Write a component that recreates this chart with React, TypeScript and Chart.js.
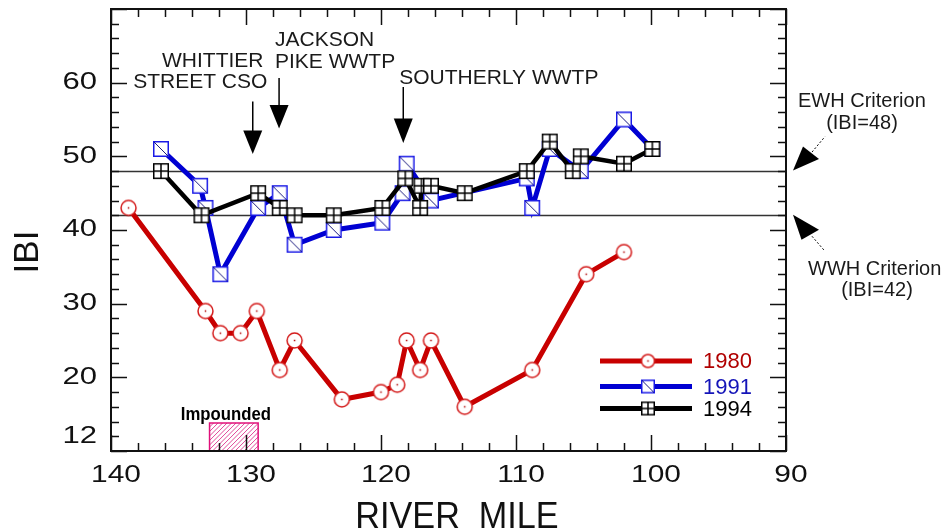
import { useEffect, useRef } from "react";
import { Chart, registerables } from "chart.js";

Chart.register(...registerables);

// ---- data ----
const seriesNames = ["1980", "1991", "1994"];

const miles1980 = [138.7, 133.0, 131.9, 130.4, 129.2, 127.5, 126.4, 122.9, 120.0, 118.8, 118.1, 117.1, 116.3, 113.8, 108.8, 104.8, 102.0];
const ibi1980 = [43, 29, 26, 26, 29, 21, 25, 17, 18, 19, 25, 21, 25, 16, 21, 34, 37];

const miles1991 = [136.3, 133.4, 133.0, 131.9, 129.1, 127.5, 126.4, 123.5, 119.9, 118.4, 118.1, 116.3, 109.2, 108.8, 107.5, 105.2, 102.0, 99.9];
const ibi1991 = [51, 46, 43, 34, 43, 45, 38, 40, 41, 45, 49, 44, 47, 43, 51, 48, 55, 51];

const miles1994 = [136.3, 133.3, 129.1, 127.5, 126.4, 123.5, 119.9, 118.2, 117.1, 117.0, 116.3, 113.8, 109.2, 107.5, 105.8, 105.2, 102.0, 99.9];
const ibi1994 = [48, 42, 45, 43, 42, 42, 43, 47, 43, 46, 46, 45, 48, 52, 48, 50, 49, 51];

const xTickLabels = [140, 130, 120, 110, 100, 90];
const yTickLabels = [12, 20, 30, 40, 50, 60];

const criteriaValues = [48, 42];
const criteriaText = [
  ["EWH Criterion", "(IBI=48)"],
  ["WWH Criterion", "(IBI=42)"],
];

const sourceNames = [
  ["WHITTIER", "STREET CSO"],
  ["JACKSON", "PIKE WWTP"],
  ["SOUTHERLY WWTP"],
];
const sourceMiles = [129.5, 127.55, 118.35];

const impoundedMiles = [132.7, 129.1];
const impoundedTop = 13.8;
const impoundedLabel = "Impounded";

const xTitle = "RIVER  MILE";
const yTitle = "IBI";

// ---- styles ----
const FONT = '"Liberation Sans", Arial, Helvetica, sans-serif';
const RED = "#c80000";
const BLUE = "#0000d2";
const BLACK = "#000000";

function makeMarker(kind: string, size: number): HTMLCanvasElement {
  const c = document.createElement("canvas");
  const s = size + 4;
  c.width = s;
  c.height = s;
  const g = c.getContext("2d")!;
  const o = 2;
  if (kind === "circle") {
    g.fillStyle = "#fff";
    g.strokeStyle = "#d41c1c";
    g.lineWidth = 1.5;
    g.beginPath();
    g.arc(s / 2, s / 2, size / 2, 0, Math.PI * 2);
    g.fill();
    g.stroke();
    g.fillStyle = "#b00000";
    g.fillRect(s / 2 - 0.75, s / 2 - 0.75, 1.5, 1.5);
  } else if (kind === "diag") {
    g.fillStyle = "#fff";
    g.fillRect(o, o, size, size);
    g.strokeStyle = "#1a1ae6";
    g.lineWidth = 1.5;
    g.strokeRect(o + 0.75, o + 0.75, size - 1.5, size - 1.5);
    g.strokeStyle = "#1a1a80";
    g.lineWidth = 1;
    g.beginPath();
    g.moveTo(o + 1, o + 1);
    g.lineTo(o + size - 1, o + size - 1);
    g.stroke();
  } else {
    g.fillStyle = "#fff";
    g.fillRect(o, o, size, size);
    g.strokeStyle = "#000";
    g.lineWidth = 1.5;
    g.strokeRect(o + 0.75, o + 0.75, size - 1.5, size - 1.5);
    g.beginPath();
    g.moveTo(o + size / 2, o);
    g.lineTo(o + size / 2, o + size);
    g.moveTo(o, o + size / 2);
    g.lineTo(o + size, o + size / 2);
    g.stroke();
  }
  return c;
}

function stretchText(ctx: CanvasRenderingContext2D, text: string, x: number, y: number, sx: number, align: CanvasTextAlign) {
  ctx.save();
  ctx.translate(x, y);
  ctx.scale(sx, 1);
  ctx.textAlign = align;
  ctx.fillText(text, 0, 0);
  ctx.restore();
}

function downArrow(ctx: CanvasRenderingContext2D, x: number, yStart: number, yBase: number, yTip: number) {
  ctx.beginPath();
  ctx.moveTo(x, yStart);
  ctx.lineTo(x, yBase + 1);
  ctx.stroke();
  ctx.beginPath();
  ctx.moveTo(x - 9.5, yBase);
  ctx.lineTo(x + 9.5, yBase);
  ctx.lineTo(x, yTip);
  ctx.closePath();
  ctx.fill();
}

export default function App() {
  const ref = useRef<HTMLCanvasElement | null>(null);

  useEffect(() => {
    const canvas = ref.current;
    if (!canvas) return;

    const mRed = makeMarker("circle", 15);
    const mBlue = makeMarker("diag", 16);
    const mBlack = makeMarker("grid", 16);
    const lRed = makeMarker("circle", 13);
    const lBlue = makeMarker("diag", 14);
    const lBlack = makeMarker("grid", 14);

    const decor = {
      id: "decor",
      beforeDatasetsDraw(chart: any) {
        const { ctx, chartArea: a, scales } = chart;
        const x = scales.x;
        const y = scales.y;
        ctx.save();
        // criterion lines
        ctx.strokeStyle = "#333";
        ctx.lineWidth = 1.5;
        criteriaValues.forEach((v) => {
          const py = Math.round(y.getPixelForValue(v)) + 0.5;
          ctx.beginPath();
          ctx.moveTo(a.left, py);
          ctx.lineTo(a.right, py);
          ctx.stroke();
        });
        // impounded box
        const x0 = x.getPixelForValue(impoundedMiles[0]);
        const x1 = x.getPixelForValue(impoundedMiles[1]);
        const yt = y.getPixelForValue(impoundedTop);
        const yb = a.bottom;
        ctx.fillStyle = "#fff";
        ctx.fillRect(x0, yt, x1 - x0, yb - yt);
        ctx.save();
        ctx.beginPath();
        ctx.rect(x0, yt, x1 - x0, yb - yt);
        ctx.clip();
        ctx.strokeStyle = "#e04a9a";
        ctx.lineWidth = 1;
        for (let k = -60; k < 120; k += 4.5) {
          ctx.beginPath();
          ctx.moveTo(x0 + k, yb);
          ctx.lineTo(x0 + k + (yb - yt), yt);
          ctx.stroke();
        }
        ctx.restore();
        ctx.strokeStyle = "#e0107a";
        ctx.lineWidth = 1.5;
        ctx.strokeRect(x0, yt, x1 - x0, yb - yt);
        ctx.fillStyle = "#000";
        ctx.font = `bold 18px ${FONT}`;
        ctx.textBaseline = "alphabetic";
        stretchText(ctx, impoundedLabel, (x0 + x1) / 2 - 8, 420, 0.93, "center");
        ctx.restore();
      },
      afterDraw(chart: any) {
        const { ctx, chartArea: a, scales } = chart;
        const x = scales.x;
        const y = scales.y;
        ctx.save();
        // frame
        ctx.strokeStyle = "#111";
        ctx.lineWidth = 2;
        ctx.strokeRect(a.left, a.top, a.right - a.left, a.bottom - a.top);
        // ticks
        ctx.lineWidth = 1.5;
        ctx.beginPath();
        for (let v = 90; v <= 140; v += 2) {
          const px = Math.round(x.getPixelForValue(v)) + 0.5;
          const len = v % 10 === 0 ? 16 : 8;
          ctx.moveTo(px, a.bottom);
          ctx.lineTo(px, a.bottom - len);
          ctx.moveTo(px, a.top);
          ctx.lineTo(px, a.top + len);
        }
        for (let v = 10; v <= 70; v += 2) {
          const py = Math.round(y.getPixelForValue(v)) + 0.5;
          const len = v % 10 === 0 ? 16 : 8;
          ctx.moveTo(a.left, py);
          ctx.lineTo(a.left + len, py);
          ctx.moveTo(a.right, py);
          ctx.lineTo(a.right - len, py);
        }
        ctx.stroke();

        // tick labels
        ctx.fillStyle = "#111";
        ctx.font = `23px ${FONT}`;
        ctx.textBaseline = "alphabetic";
        xTickLabels.forEach((v) => {
          stretchText(ctx, String(v), x.getPixelForValue(v) + 5, 482, 1.3, "center");
        });
        ctx.textBaseline = "middle";
        yTickLabels.forEach((v) => {
          stretchText(ctx, String(v), 97, y.getPixelForValue(v), 1.35, "right");
        });

        // axis titles
        ctx.textBaseline = "alphabetic";
        ctx.font = `36px ${FONT}`;
        stretchText(ctx, xTitle, 457, 528, 0.95, "center");
        ctx.save();
        ctx.translate(38, 252);
        ctx.rotate(-Math.PI / 2);
        ctx.font = `35px ${FONT}`;
        ctx.textAlign = "center";
        ctx.fillText(yTitle, 0, 0);
        ctx.restore();

        // source annotations
        ctx.fillStyle = "#1a1a1a";
        ctx.strokeStyle = "#000";
        ctx.font = `21px ${FONT}`;
        ctx.textAlign = "center";
        const ax0 = x.getPixelForValue(sourceMiles[0]);
        const ax1 = x.getPixelForValue(sourceMiles[1]);
        const ax2 = x.getPixelForValue(sourceMiles[2]);
        ctx.fillText(sourceNames[0][0], ax0 - 40, 66.5);
        ctx.fillText(sourceNames[0][1], ax0 - 52.5, 87.5);
        ctx.fillText(sourceNames[1][0], ax1 + 45.5, 45.5);
        ctx.fillText(sourceNames[1][1], ax1 + 56, 67.5);
        ctx.textAlign = "left";
        ctx.fillText(sourceNames[2][0], ax2 - 4, 83.5);
        ctx.fillStyle = "#000";
        ctx.lineWidth = 1.5;
        downArrow(ctx, ax0, 101.5, 130.5, 154);
        downArrow(ctx, ax1, 78, 105, 128.5);
        downArrow(ctx, ax2, 87, 118.5, 143);

        // criterion annotations
        ctx.fillStyle = "#1a1a1a";
        ctx.font = `20px ${FONT}`;
        ctx.textAlign = "left";
        ctx.fillText(criteriaText[0][0], 798, 106.5);
        ctx.textAlign = "center";
        ctx.fillText(criteriaText[0][1], 862, 128.5);
        ctx.textAlign = "left";
        ctx.fillText(criteriaText[1][0], 808, 275);
        ctx.textAlign = "center";
        ctx.fillText(criteriaText[1][1], 877, 296);
        const yE = y.getPixelForValue(criteriaValues[0]);
        const yW = y.getPixelForValue(criteriaValues[1]);
        ctx.fillStyle = "#000";
        ctx.beginPath();
        ctx.moveTo(a.right + 7, yE - 0.5);
        ctx.lineTo(a.right + 17, yE - 24.5);
        ctx.lineTo(a.right + 33, yE - 12);
        ctx.closePath();
        ctx.fill();
        ctx.beginPath();
        ctx.moveTo(a.right + 7, yW - 0.5);
        ctx.lineTo(a.right + 15.5, yW + 24.5);
        ctx.lineTo(a.right + 33, yW + 14.5);
        ctx.closePath();
        ctx.fill();
        ctx.lineWidth = 1;
        ctx.setLineDash([2, 2]);
        ctx.beginPath();
        ctx.moveTo(a.right + 26, yE - 19);
        ctx.lineTo(a.right + 39, yE - 34.5);
        ctx.moveTo(a.right + 26, yW + 21);
        ctx.lineTo(a.right + 39, yW + 36);
        ctx.stroke();
        ctx.setLineDash([]);

        // legend
        const legendColors = [RED, BLUE, BLACK];
        const legendText = ["#b00000", "#1414b8", "#000"];
        const legendMarks = [lRed, lBlue, lBlack];
        const legendY = [361, 386.5, 408.5];
        ctx.font = `22px ${FONT}`;
        ctx.textAlign = "left";
        ctx.textBaseline = "middle";
        seriesNames.forEach((name, i) => {
          ctx.strokeStyle = legendColors[i];
          ctx.lineWidth = 5;
          ctx.beginPath();
          ctx.moveTo(600, legendY[i]);
          ctx.lineTo(692, legendY[i]);
          ctx.stroke();
          const m = legendMarks[i];
          ctx.drawImage(m, 648 - m.width / 2, legendY[i] - m.height / 2);
          ctx.fillStyle = legendText[i];
          ctx.fillText(name, 703, legendY[i] + 1);
        });
        ctx.restore();
      },
    };

    const toPts = (xs: number[], ys: number[]) => xs.map((m, i) => ({ x: m, y: ys[i] }));

    const chart = new Chart(canvas, {
      type: "scatter",
      data: {
        datasets: [
          {
            label: seriesNames[0],
            data: toPts(miles1980, ibi1980),
            showLine: true,
            borderColor: RED,
            backgroundColor: RED,
            borderWidth: 5,
            pointStyle: mRed as any,
            pointRadius: 8,
            order: 2,
          },
          {
            label: seriesNames[1],
            data: toPts(miles1991, ibi1991),
            showLine: true,
            borderColor: BLUE,
            backgroundColor: BLUE,
            borderWidth: 5,
            pointStyle: mBlue as any,
            pointRadius: 8,
            order: 1,
          },
          {
            label: seriesNames[2],
            data: toPts(miles1994, ibi1994),
            showLine: true,
            borderColor: BLACK,
            backgroundColor: BLACK,
            borderWidth: 4.5,
            pointStyle: mBlack as any,
            pointRadius: 8,
            order: 0,
          },
        ],
      },
      options: {
        animation: false,
        responsive: false,
        events: [],
        layout: {
          autoPadding: false,
          padding: { left: 111, top: 9, right: 159, bottom: 81 },
        },
        plugins: {
          legend: { display: false },
          tooltip: { enabled: false },
        },
        scales: {
          x: { type: "linear", min: 90, max: 140, reverse: true, display: false },
          y: { type: "linear", min: 10, max: 70, display: false },
        },
      },
      plugins: [decor],
    } as any);

    return () => chart.destroy();
  }, []);

  return (
    <div style={{ position: "fixed", left: 0, top: 0, width: 945, height: 532, background: "#fff" }}>
      <canvas ref={ref} width={945} height={532} style={{ display: "block" }} />
    </div>
  );
}
